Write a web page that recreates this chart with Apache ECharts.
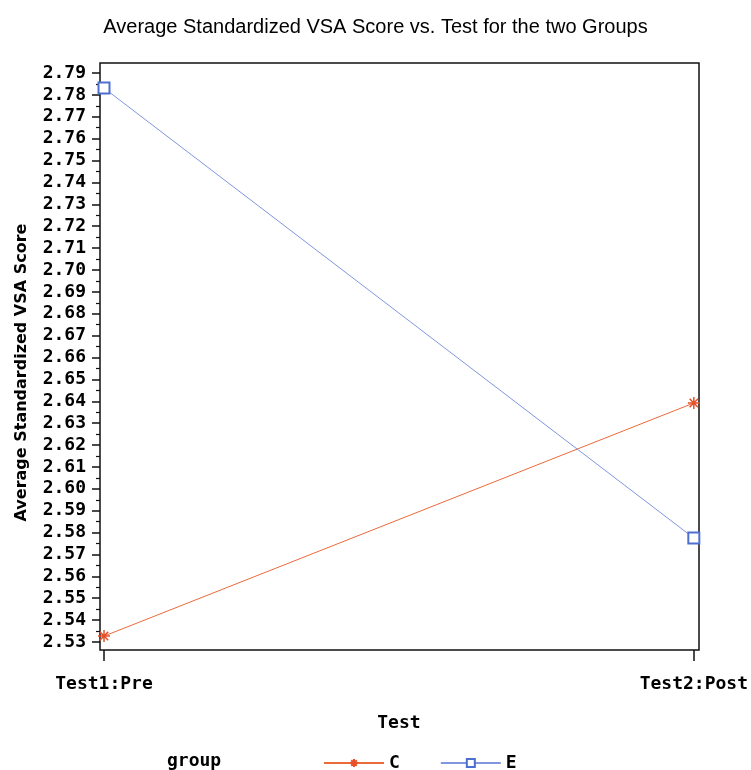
<!DOCTYPE html>
<html>
<head>
<meta charset="utf-8">
<script src="https://cdn.jsdelivr.net/npm/echarts@6/dist/echarts.min.js"></script>
<title></title>
</head>
<body style="margin:0;background:#fff;">
<div id="main" style="width:751px;height:770px;"></div>
<script type="text/javascript">
// categories on the x axis
var tests = ['Test1:Pre', 'Test2:Post'];
// mean standardized VSA score per group
var groupC = [2.5327, 2.6392];
var groupE = [2.7831, 2.5775];
// y axis tick labels
var yTicks = [2.53, 2.54, 2.55, 2.56, 2.57, 2.58, 2.59, 2.60, 2.61, 2.62, 2.63, 2.64, 2.65,
              2.66, 2.67, 2.68, 2.69, 2.70, 2.71, 2.72, 2.73, 2.74, 2.75, 2.76, 2.77, 2.78, 2.79];

var yMin = 2.52635, yMax = 2.79457;
// minor ticks half way between labelled ticks
var yMinor = [];
for (var i = 0; i < yTicks.length - 1; i++) {
    yMinor.push(Math.round((yTicks[i] + 0.005) * 1000) / 1000);
}

var monoBold = { fontFamily: 'DejaVu Sans Mono', fontWeight: 'bold', fontSize: 18, color: '#000' };
var starPath = 'path://M0,5L10,5M5,0L5,10M1.5,1.5L8.5,8.5M8.5,1.5L1.5,8.5';

var myChart = echarts.init(document.getElementById('main'));
myChart.setOption({
    animation: false,
    backgroundColor: '#fff',
    title: [{
        text: 'Average Standardized VSA Score vs. Test for the two Groups',
        left: 'center',
        top: 12,
        textStyle: { fontFamily: 'Liberation Sans', fontWeight: 'normal', fontSize: 20, color: '#000' }
    }, {
        text: 'group',
        left: 162,
        top: 747,
        textStyle: monoBold
    }],
    legend: {
        left: 318,
        top: 749,
        itemWidth: 60,
        itemHeight: 10,
        itemGap: 40,
        data: ['C', 'E'],
        textStyle: monoBold
    },
    grid: [
        { left: 104, right: 57, top: 63, bottom: 120 },
        { left: 100, right: 52, top: 63, bottom: 120, show: true, borderColor: '#111', borderWidth: 1.5, backgroundColor: 'transparent' }
    ],
    xAxis: [{
        gridIndex: 0,
        type: 'category',
        data: tests,
        boundaryGap: false,
        name: 'Test',
        nameLocation: 'middle',
        nameGap: 64,
        nameTextStyle: monoBold,
        axisLine: { show: false },
        axisTick: { show: true, length: 11, lineStyle: { color: '#111', width: 1.5 } },
        axisLabel: Object.assign({ margin: 25 }, monoBold),
        splitLine: { show: false }
    }, {
        gridIndex: 1, type: 'value', show: false
    }],
    yAxis: [{
        gridIndex: 0,
        type: 'value',
        min: yMin,
        max: yMax,
        offset: 4,
        name: 'Average Standardized VSA Score',
        nameLocation: 'middle',
        nameGap: 70,
        nameTextStyle: { fontFamily: 'DejaVu Sans', fontWeight: 'bold', fontSize: 16, color: '#000', padding: [0, 32, 0, 0] },
        axisLine: { show: false },
        axisTick: { show: true, length: 8, customValues: yTicks, lineStyle: { color: '#111', width: 1.5 } },
        axisLabel: Object.assign({ customValues: yTicks, margin: 14, formatter: function (v) { return v.toFixed(2); } }, monoBold),
        splitLine: { show: false }
    }, {
        gridIndex: 0,
        type: 'value',
        position: 'left',
        min: yMin,
        max: yMax,
        offset: 4,
        axisLine: { show: false },
        axisTick: { show: true, length: 4, customValues: yMinor, lineStyle: { color: '#111', width: 1.2 } },
        axisLabel: { show: false },
        splitLine: { show: false }
    }, {
        gridIndex: 1, type: 'value', show: false
    }],
    series: [{
        name: 'C',
        type: 'line',
        data: groupC,
        symbol: starPath,
        symbolSize: 12,
        itemStyle: { color: '#e8502a', borderColor: '#e8502a', borderWidth: 1.5 },
        lineStyle: { color: '#ec6a3a', width: 1 }
    }, {
        name: 'E',
        type: 'line',
        data: groupE,
        symbol: 'emptyRect',
        symbolSize: 11,
        itemStyle: { color: '#4d6fd0', borderColor: '#4d6fd0', borderWidth: 1 },
        lineStyle: { color: '#7f98dd', width: 1 }
    }]
});
</script>
</body>
</html>
